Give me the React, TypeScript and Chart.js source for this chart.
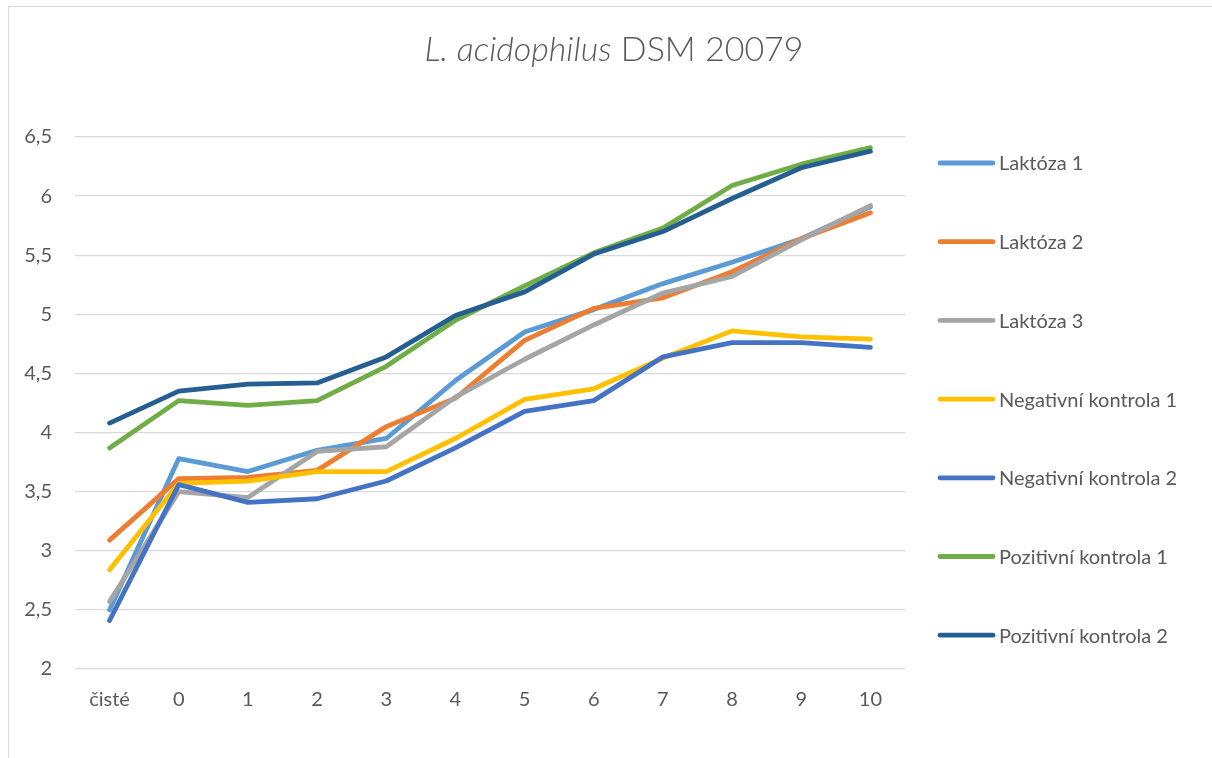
import React, { useEffect, useRef } from "react";
import { Chart, registerables } from "chart.js";

Chart.register(...registerables);

const categories = ["čisté", "0", "1", "2", "3", "4", "5", "6", "7", "8", "9", "10"];

const laktoza1 = [2.5, 3.78, 3.67, 3.85, 3.95, 4.44, 4.85, 5.04, 5.26, 5.44, 5.64, 5.91];
const laktoza2 = [3.09, 3.61, 3.62, 3.68, 4.05, 4.29, 4.78, 5.05, 5.14, 5.36, 5.64, 5.86];
const laktoza3 = [2.57, 3.5, 3.45, 3.84, 3.88, 4.3, 4.62, 4.91, 5.18, 5.32, 5.63, 5.92];
const negativni1 = [2.84, 3.57, 3.59, 3.67, 3.67, 3.95, 4.28, 4.37, 4.63, 4.86, 4.81, 4.79];
const negativni2 = [2.41, 3.56, 3.41, 3.44, 3.59, 3.87, 4.18, 4.27, 4.64, 4.76, 4.76, 4.72];
const pozitivni1 = [3.87, 4.27, 4.23, 4.27, 4.56, 4.95, 5.24, 5.52, 5.73, 6.09, 6.27, 6.41];
const pozitivni2 = [4.08, 4.35, 4.41, 4.42, 4.64, 4.99, 5.19, 5.51, 5.7, 5.98, 6.24, 6.38];

const seriesNames = [
  "Laktóza 1",
  "Laktóza 2",
  "Laktóza 3",
  "Negativní kontrola 1",
  "Negativní kontrola 2",
  "Pozitivní kontrola 1",
  "Pozitivní kontrola 2",
];
const seriesValues = [laktoza1, laktoza2, laktoza3, negativni1, negativni2, pozitivni1, pozitivni2];
const seriesColors = ["#5B9BD5", "#ED7D31", "#A5A5A5", "#FFC000", "#4472C4", "#70AD47", "#255E91"];

const titleItalic = "L. acidophilus";
const titleRest = " DSM 20079";

const yMin = 2;
const yMax = 6.5;
const yStep = 0.5;

const FONT = "Lato, 'Open Sans', 'DejaVu Sans', sans-serif";
const TEXT_COLOR = "#595959";

const titlePlugin = {
  id: "mixedTitle",
  afterDraw(chart: any) {
    const ctx = chart.ctx as CanvasRenderingContext2D;
    ctx.save();
    const size = 34;
    const fItalic = `italic 300 ${size}px ${FONT}`;
    const fNormal = `300 ${size}px ${FONT}`;
    ctx.font = fItalic;
    const w1 = ctx.measureText(titleItalic).width;
    ctx.font = fNormal;
    const w2 = ctx.measureText(titleRest).width;
    const cx = 614;
    const y = 50;
    const x0 = cx - (w1 + w2) / 2;
    ctx.fillStyle = TEXT_COLOR;
    ctx.textBaseline = "middle";
    ctx.textAlign = "left";
    ctx.font = fItalic;
    ctx.fillText(titleItalic, x0, y);
    ctx.font = fNormal;
    ctx.fillText(titleRest, x0 + w1, y);
    ctx.restore();
  },
};

const legendPlugin = {
  id: "sideLegend",
  afterDraw(chart: any) {
    const ctx = chart.ctx as CanvasRenderingContext2D;
    const area = chart.chartArea;
    const x0 = area.right + 35;
    const step = 78.7;
    const yStart = area.top + 26;
    ctx.save();
    chart.data.datasets.forEach((ds: any, i: number) => {
      const y = yStart + i * step;
      ctx.strokeStyle = ds.borderColor;
      ctx.lineWidth = 4.8;
      ctx.lineCap = "round";
      ctx.beginPath();
      ctx.moveTo(x0, y);
      ctx.lineTo(x0 + 53, y);
      ctx.stroke();
      ctx.fillStyle = TEXT_COLOR;
      ctx.font = `20px ${FONT}`;
      ctx.textBaseline = "middle";
      ctx.textAlign = "left";
      ctx.fillText(ds.label, x0 + 59, y + 1);
    });
    ctx.restore();
  },
};

export default function App() {
  const canvasRef = useRef<HTMLCanvasElement | null>(null);

  useEffect(() => {
    if (!canvasRef.current) return;
    const n = seriesNames.length;
    const chart = new Chart(canvasRef.current, {
      type: "line",
      data: {
        labels: categories,
        datasets: seriesNames.map((name, i) => ({
          label: name,
          data: seriesValues[i],
          borderColor: seriesColors[i],
          backgroundColor: seriesColors[i],
          borderWidth: 4.8,
          borderCapStyle: "round" as const,
          borderJoinStyle: "round" as const,
          pointRadius: 0,
          pointHoverRadius: 0,
          tension: 0,
          fill: false,
          order: n - i,
        })),
      },
      options: {
        responsive: false,
        animation: false,
        devicePixelRatio: 1,
        layout: { padding: { top: 137, right: 307, bottom: 29, left: 0 } },
        plugins: {
          legend: { display: false },
          title: { display: false },
          tooltip: { enabled: false },
        },
        scales: {
          x: {
            type: "category",
            offset: true,
            grid: { display: false },
            border: { display: false },
            ticks: {
              color: TEXT_COLOR,
              font: { size: 20, family: FONT },
              padding: 11,
              maxRotation: 0,
              autoSkip: false,
            },
            afterFit: (s: any) => {
              s.height = 60;
            },
          },
          y: {
            min: yMin,
            max: yMax,
            ticks: {
              stepSize: yStep,
              color: TEXT_COLOR,
              font: { size: 20, family: FONT },
              padding: 23,
              callback: (v: any) => String(v).replace(".", ","),
            },
            grid: { color: "#d9d9d9", lineWidth: 1.3, drawTicks: false },
            border: { display: false },
            afterFit: (s: any) => {
              s.width = 75;
            },
          },
        },
      },
      plugins: [titlePlugin, legendPlugin],
    });
    return () => chart.destroy();
  }, []);

  return (
    <div style={{ position: "fixed", left: 0, top: 0, width: 1212, height: 758, overflow: "hidden", background: "#fff" }}>
      <div
        style={{
          position: "absolute",
          left: 8,
          top: 6,
          width: 1300,
          height: 900,
          border: "1px solid #d9d9d9",
        }}
      />
      <canvas
        ref={canvasRef}
        width={1212}
        height={758}
        style={{ position: "absolute", left: 0, top: 0, display: "block" }}
      />
    </div>
  );
}
